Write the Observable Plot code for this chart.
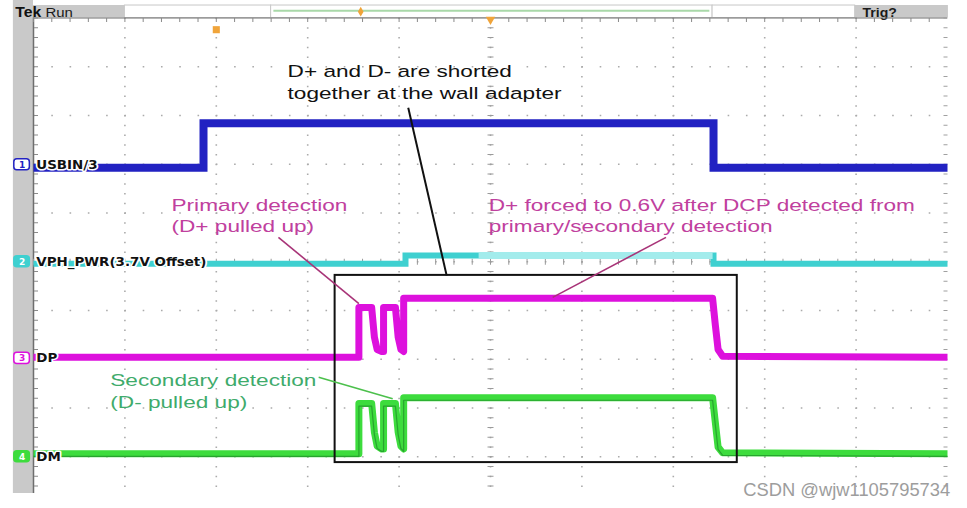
<!DOCTYPE html>
<html><head><meta charset="utf-8">
<script src="https://cdn.jsdelivr.net/npm/d3@7"></script>
<script src="https://cdn.jsdelivr.net/npm/@observablehq/plot@0.6"></script>
<style>html,body{margin:0;padding:0;background:#fff;} #chart svg{display:block;}</style>
</head><body><div id="chart"></div>
<script>
// Time axis: scope divisions (0 = trigger / centre). Value axis: vertical divisions (0 = centre line).
const usbinT = [-5, -3.14, -3.14, 2.44, 2.44, 5];
const usbinV = [1.93, 1.93, 2.84, 2.84, 1.93, 1.93];
const vphT = [-5, -0.93, -0.93, 2.44, 2.44, 5];
const vphV = [-0.04, -0.04, 0.13, 0.13, -0.04, -0.04];
const vphPersistT = [-0.13, 2.43];
const vphPersistV = [0.13, 0.13];
const dpT = [-5, -1.44, -1.44, -1.30, -1.27, -1.24, -1.19, -1.17, -1.17, -1.04, -1.01, -0.98, -0.95, -0.95, 2.43, 2.46, 2.49, 2.54, 5];
const dpV = [-1.96, -1.96, -0.94, -0.94, -1.55, -1.80, -1.84, -1.84, -0.94, -0.94, -1.55, -1.80, -1.84, -0.75, -0.75, -1.30, -1.80, -1.94, -1.96];
const dmT = dpT;
const dmV = [-3.94, -3.94, -2.91, -2.91, -3.50, -3.78, -3.84, -3.84, -2.91, -2.91, -3.50, -3.78, -3.84, -2.79, -2.79, -3.30, -3.80, -3.92, -3.94];

const channelNames = ["1", "2", "3", "4"];
const channelLabels = ["USBIN/3", "VPH_PWR(3.7V Offset)", "DP", "DM"];
const channelRef = [1.99, 0.0, -1.98, -4.0];

const detBoxT = [-1.70, 2.70];
const detBoxV = [-0.28, -4.12];

const noteLines = ["D+ and D- are shorted", "together at the wall adapter", "Primary detection", "(D+ pulled up)",
  "D+ forced to 0.6V after DCP detected from", "primary/secondary detection", "Secondary detection", "(D- pulled up)"];
const noteT = [-2.22, -2.22, -3.49, -3.49, -0.02, -0.02, -4.16, -4.16];
const noteV = [3.78, 3.33, 1.05, 0.60, 1.05, 0.60, -2.54, -2.99];
const noteKind = ["black", "black", "dp", "dp", "dp", "dp", "dm", "dm"];

const leaderT1 = [-0.90, -2.32, 1.92, -1.88];
const leaderV1 = [3.16, 0.50, 0.50, -2.37];
const leaderT2 = [-0.48, -1.44, 0.68, -1.07];
const leaderV2 = [-0.28, -0.86, -0.73, -2.81];
const leaderKind = ["black", "dp", "dp", "dm"];

const gridT = [-4, -3, -2, -1, 0, 1, 2, 3, 4];
const gridV = [-4, -3, -2, -1, 0, 1, 2, 3, 4];

const headerX1 = [-5.21, -4.00, -2.40, 2.43, 3.99];
const headerX2 = [-4.00, -2.40, 2.43, 3.99, 5.01];
const headerShaded = [true, false, false, false, true];
const headerTexts = ["Tek", "Run", "Trig?"];
const headerTextT = [-5.20, -4.87, 4.07];
const watermark = "CSDN @wjw1105795734";

// ---- styling (not data) ----
const kindColor = {black: "#111111", dp: "#c0409e", dm: "#3fab6c"};
const leaderColor = {black: "#111111", dp: "#a83478", dm: "#4cc04c"};
const chColor = ["#2222c2", "#3fd0d0", "#dd11dd", "#3ddc3d"];
const chFilled = [false, true, false, true];

const tbl = (T, V) => T.map((t, i) => ({t, v: V[i]}));
const notes = noteLines.map((s, i) => ({s, t: noteT[i], v: noteV[i], k: noteKind[i]}));
const leaders = leaderT1.map((t, i) => ({t1: t, v1: leaderV1[i], t2: leaderT2[i], v2: leaderV2[i], k: leaderKind[i]}));
const chans = channelNames.map((n, i) => ({n, label: channelLabels[i], ref: channelRef[i], i}));
const header = headerX1.map((x1, i) => ({x1, x2: headerX2[i], shaded: headerShaded[i]}));
const headerT = headerTexts.map((s, i) => ({s, t: headerTextT[i]}));

const sansFont = "Liberation Sans, Arial, sans-serif";
const scopeFont = "DejaVu Sans, sans-serif";
const stepStyle = {strokeLinejoin: "miter", strokeLinecap: "butt", strokeMiterlimit: 3};
const pulseStyle = {strokeLinejoin: "round", strokeLinecap: "butt"};

const svg = Plot.plot({
  width: 967, height: 508,
  marginLeft: 33, marginRight: 20, marginTop: 17.5, marginBottom: 15,
  x: {domain: [-5, 5], axis: null},
  y: {domain: [-4.754, 5], axis: null},
  style: {background: "#fff"},
  marks: [
    // left bezel
    Plot.rect([0], {x1: -5.22, x2: -5.0, y1: -4.754, y2: 5.36, fill: "#c9c9c9"}),
    // header boxes
    Plot.rect(header, {x1: "x1", x2: "x2", y1: 5.0, y2: 5.256, fill: d => d.shaded ? "#c9c9c9" : "#ffffff", stroke: d => d.shaded ? "none" : "#c8c8c8", strokeWidth: 1}),
    Plot.ruleY([5.15], {x1: -2.37, x2: 2.40, stroke: "#a9d8a9", strokeWidth: 2}),
    Plot.text([headerT[0]], {x: "t", y: 5.015, text: "s", textAnchor: "start", lineAnchor: "bottom", fontFamily: sansFont,
      fontSize: 15, fontWeight: "bold", fill: "#111", ariaDescription: "sx:1.05"}),
    Plot.text([headerT[1]], {x: "t", y: 5.02, text: "s", textAnchor: "start", lineAnchor: "bottom", fontFamily: sansFont,
      fontSize: 13, fill: "#1a1a1a", ariaDescription: "sx:1.15"}),
    Plot.text([headerT[2]], {x: "t", y: 5.02, text: "s", textAnchor: "start", lineAnchor: "bottom", fontFamily: sansFont,
      fontSize: 13, fontWeight: "bold", fill: "#1a1a1a", ariaDescription: "sx:1.08"}),
    // grid dots
    Plot.ruleX(gridT, {stroke: "#ababab", strokeWidth: 1.6, strokeDasharray: "1.6,8.15"}),
    Plot.ruleY(gridV, {stroke: "#ababab", strokeWidth: 1.6, strokeDasharray: "1.6,16.68"}),
    // edges and minor ticks
    Plot.ruleX([-5], {stroke: "#6e6e6e", strokeWidth: 1.5}),
    Plot.ruleY([5], {stroke: "#6e6e6e", strokeWidth: 1.2}),
    Plot.ruleX([-5], {dx: 2.5, stroke: "#8a8a8a", strokeWidth: 4, strokeDasharray: "1,8.75"}),
    Plot.ruleX([5], {dx: -2, stroke: "#a0a0a0", strokeWidth: 4, strokeDasharray: "1,8.75"}),
    Plot.ruleY([5], {dy: 2, stroke: "#8a8a8a", strokeWidth: 4, strokeDasharray: "1,17.28"}),
    Plot.ruleX([0], {stroke: "#9a9a9a", strokeWidth: 6, strokeDasharray: "1,8.75"}),
    Plot.ruleY([0], {stroke: "#9a9a9a", strokeWidth: 6, strokeDasharray: "1,17.28"}),
    // markers
    Plot.dot([0], {x: -3.0, y: 4.76, symbol: "square", r: 4, fill: "#f0a43a"}),
    Plot.dot([0], {x: 0, y: 4.97, symbol: "triangle", r: 3.5, fill: "#f0a43a", rotate: 180}),
    Plot.dot([0], {x: -1.42, y: 5.13, symbol: "diamond", r: 3, fill: "#f0a43a"}),
    // traces
    Plot.line(tbl(vphT, vphV), {x: "t", y: "v", stroke: chColor[1], strokeWidth: 6, ...stepStyle}),
    Plot.line(tbl(vphPersistT, vphPersistV), {x: "t", y: "v", stroke: "#a3ecec", strokeWidth: 7, ...stepStyle}),
    Plot.line(tbl(usbinT, usbinV), {x: "t", y: "v", stroke: chColor[0], strokeWidth: 8, ...stepStyle}),
    Plot.line(tbl(dpT, dpV), {x: "t", y: "v", stroke: chColor[2], strokeWidth: 7, ...pulseStyle}),
    Plot.line(tbl(dmT, dmV), {x: "t", y: "v", stroke: chColor[3], strokeWidth: 7, ...pulseStyle}),
    Plot.line(tbl(dmT, dmV), {x: "t", y: "v", stroke: "#1f8a2a", strokeWidth: 1.2, dy: 2.5, strokeOpacity: 0.7, ...pulseStyle}),
    // detection window box
    Plot.rect([0], {x1: detBoxT[0], x2: detBoxT[1], y1: detBoxV[1], y2: detBoxV[0], fill: "none", stroke: "#111", strokeWidth: 2}),
    // leader lines
    Plot.link(leaders, {x1: "t1", y1: "v1", x2: "t2", y2: "v2", stroke: d => leaderColor[d.k], strokeWidth: d => d.k === "black" ? 2 : 1.6}),
    // channel markers and labels
    Plot.rect(chans, {x1: -5.21, x2: -5.04, y1: d => d.ref - 0.115, y2: d => d.ref + 0.115, rx: 3,
      fill: d => chFilled[d.i] ? chColor[d.i] : "#fff", stroke: d => chColor[d.i], strokeWidth: 1.5}),
    Plot.text(chans, {x: -5.125, y: "ref", text: "n", fontFamily: scopeFont, fontWeight: "bold", fontSize: 9,
      fill: d => chFilled[d.i] ? "#fff" : chColor[d.i]}),
    Plot.text(chans, {x: -4.97, y: "ref", text: "label", textAnchor: "start", fontFamily: scopeFont, fontWeight: "bold", fontSize: 12,
      fill: "#111", stroke: "#fff", strokeWidth: 3, paintOrder: "stroke", ariaDescription: "sx:1.12"}),
    // annotations
    Plot.text(notes, {x: "t", y: "v", text: "s", textAnchor: "start", lineAnchor: "bottom", fontFamily: sansFont, fontSize: 17,
      fill: d => kindColor[d.k], ariaDescription: "sx:1.33"}),
    // watermark
    Plot.text([watermark], {x: 5.03, y: -4.80, text: d => d, textAnchor: "end", lineAnchor: "bottom", fontFamily: sansFont, fontSize: 18, fill: "#9d9d9d", ariaDescription: "sx:1.02"})
  ]
});

// horizontal stretch of the screenshot text
svg.querySelectorAll("g[aria-description]").forEach(g => {
  const m = /sx:([\d.]+)/.exec(g.getAttribute("aria-description") || "");
  if (!m) return;
  const s = +m[1];
  g.querySelectorAll("text").forEach(t => {
    const tr = t.getAttribute("transform");
    if (tr) t.setAttribute("transform", tr + ` scale(${s},1)`);
    else {
      const x = +t.getAttribute("x") || 0, y = +t.getAttribute("y") || 0;
      t.removeAttribute("x"); t.removeAttribute("y");
      t.setAttribute("transform", `translate(${x},${y}) scale(${s},1)`);
    }
  });
});
document.getElementById("chart").appendChild(svg);
</script>
</body></html>
